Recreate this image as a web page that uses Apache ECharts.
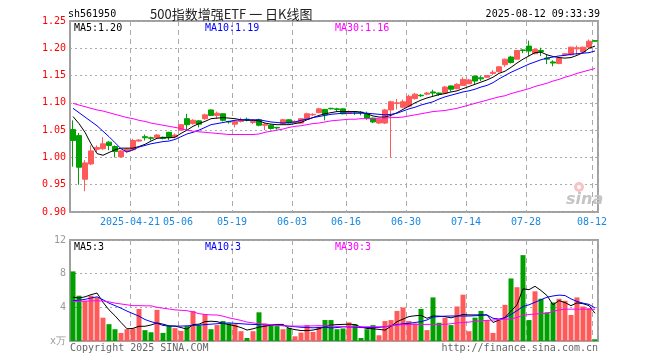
<!DOCTYPE html>
<html><head><meta charset="utf-8">
<script src="https://cdn.jsdelivr.net/npm/echarts@6/dist/echarts.min.js"></script>
<style>html,body{margin:0;padding:0;background:#fff}#c{width:660px;height:360px}</style>
</head><body><div id="c"></div>
<script>
const dates=['2025-04-07','2025-04-08','2025-04-09','2025-04-10','2025-04-11','2025-04-14','2025-04-15','2025-04-16','2025-04-17','2025-04-18','2025-04-21','2025-04-22','2025-04-23','2025-04-24','2025-04-25','2025-04-28','2025-04-29','2025-04-30','2025-05-06','2025-05-07','2025-05-08','2025-05-09','2025-05-12','2025-05-13','2025-05-14','2025-05-15','2025-05-16','2025-05-19','2025-05-20','2025-05-21','2025-05-22','2025-05-23','2025-05-26','2025-05-27','2025-05-28','2025-05-29','2025-05-30','2025-06-03','2025-06-04','2025-06-05','2025-06-06','2025-06-09','2025-06-10','2025-06-11','2025-06-12','2025-06-13','2025-06-16','2025-06-17','2025-06-18','2025-06-19','2025-06-20','2025-06-23','2025-06-24','2025-06-25','2025-06-26','2025-06-27','2025-06-30','2025-07-01','2025-07-02','2025-07-03','2025-07-04','2025-07-07','2025-07-08','2025-07-09','2025-07-10','2025-07-11','2025-07-14','2025-07-15','2025-07-16','2025-07-17','2025-07-18','2025-07-21','2025-07-22','2025-07-23','2025-07-24','2025-07-25','2025-07-28','2025-07-29','2025-07-30','2025-07-31','2025-08-01','2025-08-04','2025-08-05','2025-08-06','2025-08-07','2025-08-08','2025-08-11','2025-08-12'];

const opens=[1.051,1.040,0.960,0.988,1.015,1.016,1.028,1.020,1.001,1.011,1.014,1.030,1.038,1.036,1.036,1.037,1.046,1.038,1.050,1.071,1.062,1.067,1.071,1.087,1.077,1.080,1.066,1.061,1.066,1.070,1.064,1.069,1.059,1.059,1.055,1.062,1.069,1.064,1.063,1.070,1.078,1.082,1.088,1.090,1.089,1.089,1.081,1.084,1.083,1.080,1.072,1.063,1.063,1.087,1.099,1.092,1.094,1.108,1.114,1.116,1.120,1.118,1.118,1.131,1.126,1.132,1.135,1.149,1.146,1.147,1.154,1.157,1.170,1.184,1.180,1.197,1.204,1.190,1.196,1.182,1.175,1.172,1.188,1.188,1.199,1.193,1.202,1.214];
const closes=[1.031,0.982,0.990,1.012,1.018,1.025,1.022,1.011,1.012,1.015,1.031,1.032,1.036,1.035,1.041,1.035,1.037,1.041,1.060,1.060,1.068,1.061,1.078,1.077,1.081,1.068,1.065,1.066,1.068,1.069,1.066,1.059,1.061,1.053,1.054,1.069,1.063,1.066,1.071,1.080,1.079,1.089,1.078,1.089,1.088,1.080,1.084,1.083,1.082,1.072,1.065,1.070,1.087,1.102,1.100,1.102,1.112,1.116,1.113,1.118,1.118,1.116,1.129,1.125,1.134,1.143,1.142,1.140,1.144,1.150,1.156,1.166,1.180,1.174,1.196,1.196,1.195,1.198,1.194,1.180,1.173,1.182,1.190,1.202,1.201,1.202,1.213,1.213];
const lows=[0.983,0.950,0.938,0.986,1.010,1.014,1.013,1.000,1.000,1.008,1.012,1.029,1.031,1.031,1.034,1.033,1.032,1.035,1.049,1.050,1.060,1.055,1.069,1.076,1.071,1.066,1.062,1.055,1.064,1.066,1.061,1.057,1.050,1.051,1.051,1.061,1.062,1.062,1.062,1.069,1.076,1.081,1.068,1.088,1.084,1.079,1.080,1.078,1.077,1.069,1.063,1.061,1.061,1.000,1.088,1.090,1.092,1.106,1.111,1.114,1.112,1.113,1.117,1.121,1.125,1.131,1.134,1.133,1.140,1.146,1.151,1.156,1.166,1.172,1.179,1.191,1.186,1.189,1.186,1.171,1.167,1.171,1.187,1.187,1.188,1.192,1.201,1.212];
const highs=[1.068,1.045,0.995,1.022,1.022,1.037,1.030,1.022,1.014,1.017,1.034,1.033,1.042,1.038,1.043,1.038,1.047,1.044,1.061,1.080,1.070,1.068,1.080,1.088,1.084,1.081,1.067,1.067,1.073,1.073,1.070,1.071,1.063,1.060,1.056,1.071,1.070,1.068,1.072,1.082,1.081,1.091,1.089,1.091,1.091,1.090,1.086,1.085,1.085,1.084,1.073,1.071,1.089,1.104,1.107,1.106,1.115,1.118,1.116,1.120,1.124,1.119,1.131,1.132,1.136,1.147,1.144,1.150,1.149,1.151,1.160,1.167,1.181,1.186,1.197,1.198,1.214,1.200,1.201,1.188,1.178,1.183,1.191,1.203,1.205,1.203,1.216,1.214];

const ma5=[1.075,1.062,1.046,1.025,1.007,1.004,1.009,1.014,1.017,1.017,1.017,1.020,1.024,1.030,1.035,1.036,1.036,1.037,1.044,1.050,1.057,1.062,1.066,1.071,1.072,1.073,1.072,1.071,1.069,1.068,1.068,1.067,1.063,1.061,1.060,1.060,1.060,1.062,1.064,1.069,1.073,1.077,1.080,1.082,1.084,1.084,1.084,1.084,1.083,1.080,1.076,1.074,1.074,1.077,1.082,1.088,1.094,1.100,1.105,1.109,1.112,1.115,1.117,1.120,1.122,1.126,1.130,1.134,1.138,1.142,1.147,1.154,1.158,1.165,1.173,1.180,1.186,1.192,1.193,1.188,1.185,1.183,1.182,1.183,1.187,1.192,1.200,1.204];
const ma10=[1.090,1.082,1.074,1.066,1.058,1.048,1.038,1.027,1.016,1.010,1.014,1.019,1.022,1.025,1.027,1.029,1.030,1.033,1.038,1.043,1.046,1.050,1.055,1.060,1.062,1.064,1.066,1.068,1.069,1.069,1.069,1.069,1.067,1.065,1.064,1.063,1.064,1.065,1.068,1.070,1.073,1.075,1.077,1.079,1.080,1.081,1.081,1.081,1.081,1.081,1.080,1.079,1.078,1.079,1.081,1.085,1.089,1.092,1.096,1.099,1.102,1.107,1.111,1.114,1.117,1.120,1.122,1.125,1.129,1.132,1.137,1.144,1.150,1.156,1.161,1.166,1.171,1.175,1.179,1.182,1.184,1.186,1.187,1.189,1.190,1.191,1.192,1.195];
const ma30=[1.099,1.096,1.093,1.090,1.087,1.085,1.082,1.079,1.076,1.073,1.071,1.068,1.066,1.063,1.061,1.059,1.057,1.055,1.053,1.050,1.048,1.047,1.046,1.045,1.044,1.043,1.042,1.042,1.042,1.042,1.042,1.043,1.046,1.048,1.050,1.052,1.055,1.057,1.058,1.060,1.062,1.063,1.065,1.067,1.068,1.069,1.070,1.070,1.071,1.071,1.071,1.072,1.072,1.073,1.073,1.074,1.076,1.078,1.080,1.082,1.084,1.085,1.086,1.088,1.090,1.093,1.096,1.099,1.102,1.105,1.108,1.111,1.113,1.117,1.120,1.123,1.126,1.130,1.133,1.136,1.140,1.143,1.147,1.150,1.154,1.157,1.160,1.163];

const volumes=[8.27,5.38,4.78,5.38,5.18,2.77,2.0,1.4,0.96,1.4,1.49,3.8,1.29,1.04,3.7,0.96,1.77,1.53,1.2,1.77,3.57,1.89,3.2,1.4,1.89,2.37,2.09,2.0,1.16,0.36,1.16,3.41,2.09,1.89,1.77,1.4,1.57,0.56,1.0,1.89,1.08,1.69,2.49,2.49,1.4,1.49,2.21,2.0,0.36,1.4,1.89,0.68,2.37,2.49,3.57,3.98,2.37,2.09,3.82,1.29,5.18,2.17,2.77,1.89,4.1,5.5,1.16,2.77,3.57,2.49,0.96,2.61,4.3,7.43,6.39,10.2,2.49,5.9,5.02,3.41,4.58,5.02,4.78,3.09,5.18,4.1,3.9,0.2];
const volMa5=[5.2,5.1,5.25,5.5,5.7,4.6,3.7,3.0,2.2,1.45,1.5,1.75,1.75,1.9,2.15,2.0,1.8,1.77,1.6,1.4,1.95,2.0,2.3,2.35,2.3,2.1,1.95,1.8,1.6,1.3,1.45,1.65,1.75,1.9,1.97,1.97,1.5,1.35,1.24,1.24,1.3,1.45,1.7,1.89,1.95,1.97,2.0,1.95,1.65,1.49,1.45,1.38,1.29,1.75,2.3,2.6,2.9,3.0,3.05,2.7,2.97,2.95,2.9,2.75,2.95,3.15,3.1,3.1,3.1,3.1,2.2,2.48,2.8,3.55,4.3,6.2,6.1,6.5,6.0,5.4,4.3,4.8,4.56,4.2,4.53,4.43,4.21,3.29];
const volMa10=[4.78,4.85,4.95,5.1,5.25,4.9,4.5,4.2,3.9,3.55,3.25,2.95,2.55,2.3,2.1,1.85,1.77,1.77,1.77,1.8,1.85,1.9,1.95,2.0,2.05,2.1,2.15,2.1,2.05,2.0,1.97,1.95,1.92,1.9,1.9,1.85,1.75,1.7,1.63,1.6,1.57,1.6,1.65,1.55,1.6,1.68,1.68,1.65,1.6,1.6,1.6,1.62,1.7,1.8,1.95,2.05,2.1,2.2,2.3,2.5,2.85,2.9,2.95,2.97,2.97,2.97,2.97,3.0,3.05,3.1,2.7,2.61,2.75,3.15,3.6,4.1,4.3,4.6,4.9,5.2,5.35,5.45,5.4,5.0,4.7,4.5,4.35,3.93];
const volMa30=[4.70,4.72,4.74,4.76,4.78,4.75,4.65,4.5,4.4,4.3,4.2,4.2,4.18,4.18,4.0,3.9,3.8,3.7,3.65,3.6,3.45,3.25,3.15,3.1,3.09,2.95,2.75,2.6,2.45,2.25,2.15,2.05,1.98,1.92,1.85,1.8,1.77,1.77,1.77,1.78,1.8,1.82,1.8,1.77,1.74,1.72,1.7,1.7,1.69,1.69,1.69,1.69,1.7,1.8,1.89,1.93,1.97,1.97,1.97,1.97,1.97,1.97,1.98,2.05,2.15,2.2,2.25,2.35,2.4,2.45,2.49,2.55,2.6,2.62,2.8,3.05,3.15,3.2,3.25,3.3,3.5,3.7,3.78,3.78,3.78,3.78,3.78,3.78];

const labelDates=['2025-04-21','2025-05-06','2025-05-19','2025-06-03','2025-06-16','2025-06-30','2025-07-14','2025-07-28','2025-08-12'];
const labelTexts=['2025-04-21','05-06','05-19','06-03','06-16','06-30','07-14','07-28','08-12'];
const priceTicks=[0.90,0.95,1.00,1.05,1.10,1.15,1.20,1.25];
const volTicks=[0,4,8,12];
const volUnit='x万';
const headerCode='sh561950';
const headerTitle='500指数增强ETF 一 日K线图';
const headerTime='2025-08-12 09:33:39';
const priceLegend=['MA5:1.20','MA10:1.19','MA30:1.16'];
const volLegend=['MA5:3','MA10:3','MA30:3'];
const copyrightText='Copyright 2025 SINA.COM';
const urlText='http://finance.sina.com.cn';

const RED='#ff5a5a', GREEN='#00a000';
const MONO='DejaVu Sans Mono';
const isLabel=i=>labelDates.indexOf(dates[i])>=0;
const candleData=dates.map((d,i)=>[opens[i],closes[i],lows[i],highs[i]]);
const volData=volumes.map((v,i)=>({value:v,itemStyle:{color:closes[i]>=opens[i]?RED:GREEN}}));

function txt(t,x,y,color,opts){
  opts=opts||{};
  return {type:'text',silent:true,z:100,style:{text:t,x:x,y:y,fill:color,
    font:opts.font||('10px '+MONO),align:opts.align||'left',verticalAlign:'middle',
    textAlign:opts.align||'left',textVerticalAlign:'middle'}};
}
function line(data,color,xi,yi){
  return {type:'line',xAxisIndex:xi,yAxisIndex:yi,data:data,showSymbol:false,symbol:'none',
    lineStyle:{color:color,width:1},itemStyle:{color:color},silent:true,z:5};
}
const splitX={show:true,interval:(i)=>isLabel(i),lineStyle:{color:'#aaaaaa',type:[5,4],width:1}};

const option={
  animation:false,
  backgroundColor:'#ffffff',
  grid:[
    {left:70,top:21,width:528,height:191,show:true,borderColor:'#a0a0a0',borderWidth:2,backgroundColor:'transparent'},
    {left:70,top:240,width:528,height:101,show:true,borderColor:'#a0a0a0',borderWidth:2,backgroundColor:'transparent'}
  ],
  xAxis:[
    {type:'category',gridIndex:0,data:dates,boundaryGap:true,axisLine:{show:false},axisTick:{show:false},
     axisLabel:{interval:(i)=>isLabel(i),formatter:(v)=>labelTexts[labelDates.indexOf(v)],color:'#1a88e0',
       fontFamily:MONO,fontSize:10,margin:5,padding:[0,6,0,0]},
     splitLine:splitX},
    {type:'category',gridIndex:1,data:dates,boundaryGap:true,axisLine:{show:false},axisTick:{show:false},
     axisLabel:{show:false},splitLine:splitX}
  ],
  yAxis:[
    {type:'value',gridIndex:0,min:priceTicks[0],max:priceTicks[priceTicks.length-1],interval:0.05,
     axisLine:{show:false},axisTick:{show:false},
     axisLabel:{formatter:v=>v.toFixed(2),color:'#ff0000',fontFamily:MONO,fontSize:10,margin:4},
     splitLine:{show:true,lineStyle:{color:'#aaaaaa',type:[2,3],width:1}}},
    {type:'value',gridIndex:1,min:volTicks[0],max:volTicks[volTicks.length-1],interval:4,
     axisLine:{show:false},axisTick:{show:false},
     axisLabel:{formatter:v=>v===0?volUnit:String(v),color:'#999999',fontFamily:MONO,fontSize:10,margin:4},
     splitLine:{show:true,lineStyle:{color:'#aaaaaa',type:[2,3],width:1}}}
  ],
  series:[
    {type:'candlestick',xAxisIndex:0,yAxisIndex:0,data:candleData,barWidth:5,silent:true,
     itemStyle:{color:RED,color0:GREEN,borderColor:RED,borderColor0:GREEN,borderWidth:1}},
    line(ma5,'#000000',0,0),
    line(ma10,'#0000ff',0,0),
    line(ma30,'#ff00ff',0,0),
    {type:'bar',xAxisIndex:1,yAxisIndex:1,data:volData,barWidth:5,silent:true},
    line(volMa5,'#000000',1,1),
    line(volMa10,'#0000ff',1,1),
    line(volMa30,'#ff00ff',1,1)
  ],
  graphic:[
    txt(headerCode,68,14,'#000000'),
    txt(headerTitle,150,14,'#222222',{font:'13px "Noto Sans CJK SC"'}),
    txt(headerTime,600,14,'#000000',{align:'right'}),
    txt(priceLegend[0],74,28,'#000000'),
    txt(priceLegend[1],205,28,'#0000ff'),
    txt(priceLegend[2],335,28,'#ff00ff'),
    txt(volLegend[0],74,247,'#000000'),
    txt(volLegend[1],205,247,'#0000ff'),
    txt(volLegend[2],335,247,'#ff00ff'),
    txt(copyrightText,70,348,'#666666'),
    txt(urlText,598,348,'#666666',{align:'right'}),
    {type:'circle',silent:true,z:90,shape:{cx:579,cy:187,r:5},style:{fill:'#f6c4c4'}},
    {type:'circle',silent:true,z:91,shape:{cx:579,cy:187,r:2},style:{fill:'#ffffff'}},
    txt('sina',566,200,'#c4c4c4',{font:'italic bold 16px "DejaVu Sans"'})
  ]
};
const chart=echarts.init(document.getElementById('c'),null,{renderer:'canvas',width:660,height:360});
chart.setOption(option);
</script>
</body></html>
